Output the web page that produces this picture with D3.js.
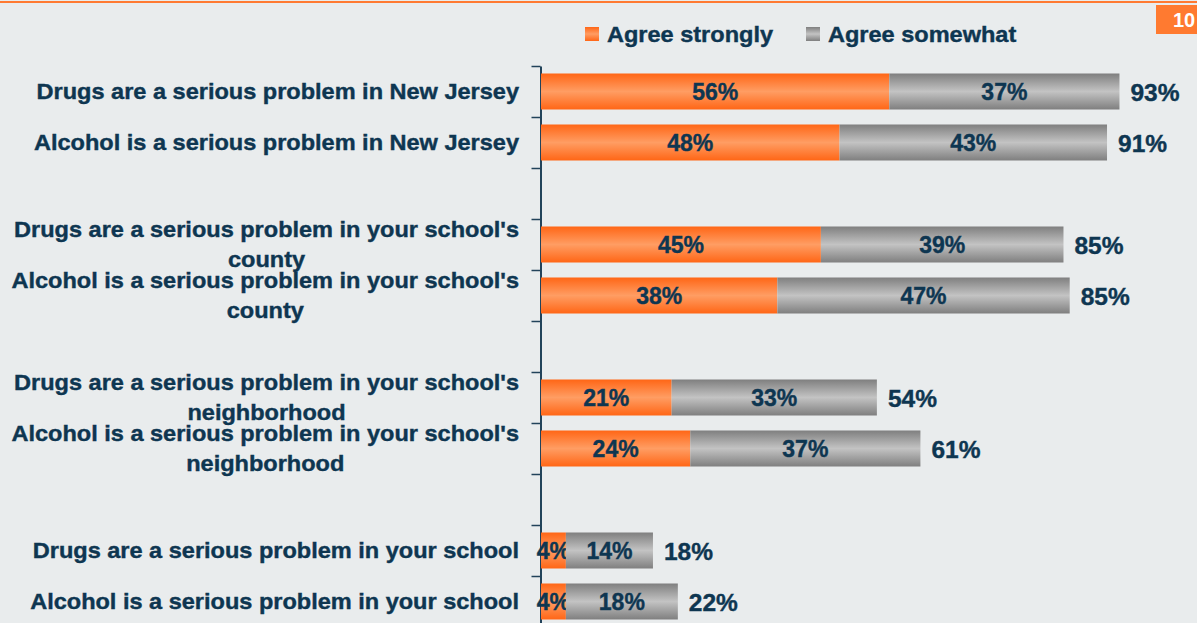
<!DOCTYPE html>
<html>
<head>
<meta charset="utf-8">
<script src="https://cdn.jsdelivr.net/npm/d3@7"></script>
<style>
  html, body { margin: 0; padding: 0; background: #e9eced; }
  svg { display: block; font-family: "Liberation Sans", Arial, sans-serif; font-weight: bold; }
  text.dark { stroke: #0e3651; stroke-width: 0.4px; }
</style>
</head>
<body>
<div id="chart"></div>
<script>
// chart data ("\n" marks where a label wraps)
var categories = [
  "Drugs are a serious problem in New Jersey",
  "Alcohol is a serious problem in New Jersey",
  "",
  "Drugs are a serious problem in your school's\ncounty",
  "Alcohol is a serious problem in your school's\ncounty",
  "",
  "Drugs are a serious problem in your school's\nneighborhood",
  "Alcohol is a serious problem in your school's\nneighborhood",
  "",
  "Drugs are a serious problem in your school",
  "Alcohol is a serious problem in your school"
];
var agreeStrongly  = [56, 48, null, 45, 38, null, 21, 24, null, 4, 4];
var agreeSomewhat  = [37, 43, null, 39, 47, null, 33, 37, null, 14, 18];
var totals         = [93, 91, null, 85, 85, null, 54, 61, null, 18, 22];
var seriesNames = ["Agree strongly", "Agree somewhat"];

var width = 1197, height = 623;
var textColor = "#0e3651";
var stretch = 1.07;

var svg = d3.select("#chart").append("svg")
  .attr("width", width)
  .attr("height", height);

// gradients
var defs = svg.append("defs");
function vGrad(id, edge, mid) {
  var g = defs.append("linearGradient").attr("id", id)
    .attr("x1", 0).attr("y1", 0).attr("x2", 0).attr("y2", 1);
  g.append("stop").attr("offset", "0%").attr("stop-color", edge);
  g.append("stop").attr("offset", "50%").attr("stop-color", mid);
  g.append("stop").attr("offset", "100%").attr("stop-color", edge);
}
vGrad("gOrange", "#ff6616", "#ff9d63");
vGrad("gGray", "#7f7f7f", "#c3c3c3");
var fills = ["url(#gOrange)", "url(#gGray)"];

svg.append("rect").attr("width", width).attr("height", height).attr("fill", "#e9eced");

// top orange rule and page number box
svg.append("rect").attr("x", 0).attr("y", 1).attr("width", width).attr("height", 2).attr("fill", "#ff7a32");
svg.append("rect").attr("x", 1156).attr("y", 5).attr("width", 41).attr("height", 29).attr("fill", "#ff7a30");
svg.append("text").attr("x", 1184).attr("y", 27).attr("text-anchor", "middle")
  .attr("fill", "#fff").style("font-size", "20px").text("10");

// scales
var keys = categories.map(function(d, i) { return "c" + i; });
var y = d3.scaleBand().domain(keys).range([66, 627]).padding(0);
var x = d3.scaleLinear().domain([0, 100]).range([541, 1163]);
var barH = 36;

// axis with ticks at category boundaries
var yTicks = d3.scaleLinear().domain([0, categories.length]).range([66, 627]);
var axis = svg.append("g")
  .attr("transform", "translate(540.5,0)")
  .call(d3.axisLeft(yTicks).ticks(categories.length).tickFormat("").tickSizeInner(9).tickSizeOuter(0));
axis.select(".domain").attr("stroke", "#22435a").attr("stroke-width", 2);
axis.selectAll(".tick line").attr("stroke", "#22435a").attr("stroke-width", 1.5);

// bars
var rows = categories.map(function(c, i) {
  return { key: keys[i], label: c, vals: [agreeStrongly[i], agreeSomewhat[i]], total: totals[i] };
}).filter(function(d) { return d.total != null; });

rows.forEach(function(r) {
  var cy = y(r.key) + y.bandwidth() / 2;
  var start = 0;
  r.vals.forEach(function(v, s) {
    svg.append("rect")
      .attr("x", x(start))
      .attr("y", cy - barH / 2)
      .attr("width", x(start + v) - x(start))
      .attr("height", barH)
      .attr("fill", fills[s]);
    svg.append("text")
      .attr("class", "dark")
      .attr("x", (x(start) + x(start + v)) / 2)
      .attr("y", cy + 8)
      .attr("text-anchor", "middle")
      .attr("fill", textColor)
      .style("font-size", "23px")
      .text(v + "%");
    start += v;
  });
  svg.append("text")
    .attr("class", "dark")
    .attr("x", x(start) + 11)
    .attr("y", cy + 9)
    .attr("fill", textColor)
    .style("font-size", "24.5px")
    .text(r.total + "%");
});

// category labels, centred lines in a right-aligned block
rows.forEach(function(r) {
  var cy = y(r.key) + y.bandwidth() / 2;
  var g = svg.append("g").attr("transform", "translate(519," + cy + ") scale(" + stretch + ",1)");
  var lines = r.label.split("\n");
  var probe = g.append("text").style("font-size", "22px");
  var blockW = 0;
  lines.forEach(function(l) { probe.text(l); blockW = Math.max(blockW, probe.node().getComputedTextLength()); });
  probe.remove();
  var lh = 31, first = 7.5 - (lines.length - 1) * 15.5;
  lines.forEach(function(l, i) {
    g.append("text")
      .attr("class", "dark")
      .attr("x", -blockW / 2)
      .attr("y", first + i * lh)
      .attr("text-anchor", "middle")
      .attr("fill", textColor)
      .style("font-size", "22px")
      .text(l);
  });
});

// legend
var legendX = [585, 806];
seriesNames.forEach(function(n, i) {
  svg.append("rect").attr("x", legendX[i]).attr("y", 27).attr("width", 14).attr("height", 14).attr("fill", fills[i]);
  svg.append("text")
    .attr("class", "dark")
    .attr("transform", "translate(" + (legendX[i] + 22) + ",42) scale(" + stretch + ",1)")
    .attr("fill", textColor)
    .style("font-size", "22px")
    .text(n);
});
</script>
</body>
</html>
